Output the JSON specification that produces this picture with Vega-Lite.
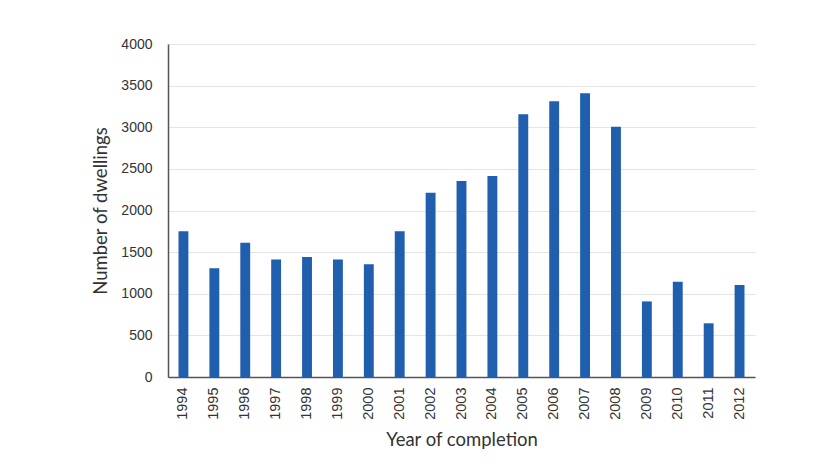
{
  "$schema": "https://vega.github.io/schema/vega-lite/v6.json",
  "width": 587,
  "height": 333,
  "autosize": {"type": "none"},
  "padding": {"left": 168, "top": 44, "right": 77, "bottom": 85},
  "background": "white",
  "config": {"view": {"stroke": null}},
  "data": {
    "values": [
      {"year": "1994", "dwellings": 1750},
      {"year": "1995", "dwellings": 1305},
      {"year": "1996", "dwellings": 1612},
      {"year": "1997", "dwellings": 1412},
      {"year": "1998", "dwellings": 1441},
      {"year": "1999", "dwellings": 1412},
      {"year": "2000", "dwellings": 1355},
      {"year": "2001", "dwellings": 1752},
      {"year": "2002", "dwellings": 2212},
      {"year": "2003", "dwellings": 2354},
      {"year": "2004", "dwellings": 2414},
      {"year": "2005", "dwellings": 3156},
      {"year": "2006", "dwellings": 3312},
      {"year": "2007", "dwellings": 3408},
      {"year": "2008", "dwellings": 3007},
      {"year": "2009", "dwellings": 908},
      {"year": "2010", "dwellings": 1145},
      {"year": "2011", "dwellings": 645},
      {"year": "2012", "dwellings": 1105}
    ]
  },
  "mark": {"type": "bar", "color": "#1f5fae"},
  "encoding": {
    "x": {
      "field": "year",
      "type": "ordinal",
      "scale": {"paddingInner": 0.68, "paddingOuter": 0.34},
      "axis": {
        "title": "Year of completion",
        "titleFont": "Lato",
        "titleFontSize": 18.5,
        "titleFontWeight": "normal",
        "titleColor": "#333333",
        "titlePadding": 11,
        "labelAngle": -90,
        "labelFont": "Liberation Sans",
        "labelFontSize": 14.5,
        "labelColor": "#333333",
        "labelPadding": 10,
        "ticks": false,
        "domainColor": "#555555",
        "domainWidth": 1.5
      }
    },
    "y": {
      "field": "dwellings",
      "type": "quantitative",
      "scale": {"domain": [0, 4000]},
      "axis": {
        "title": "Number of dwellings",
        "titleFont": "Lato",
        "titleFontSize": 18.5,
        "titleFontWeight": "normal",
        "titleColor": "#333333",
        "titlePadding": 10,
        "format": "d",
        "values": [0, 500, 1000, 1500, 2000, 2500, 3000, 3500, 4000],
        "labelFont": "Liberation Sans",
        "labelFontSize": 14,
        "labelColor": "#333333",
        "labelPadding": 16,
        "ticks": false,
        "domainColor": "#555555",
        "domainWidth": 1.5,
        "gridColor": "#e4e4e4",
        "gridWidth": 1
      }
    }
  }
}
